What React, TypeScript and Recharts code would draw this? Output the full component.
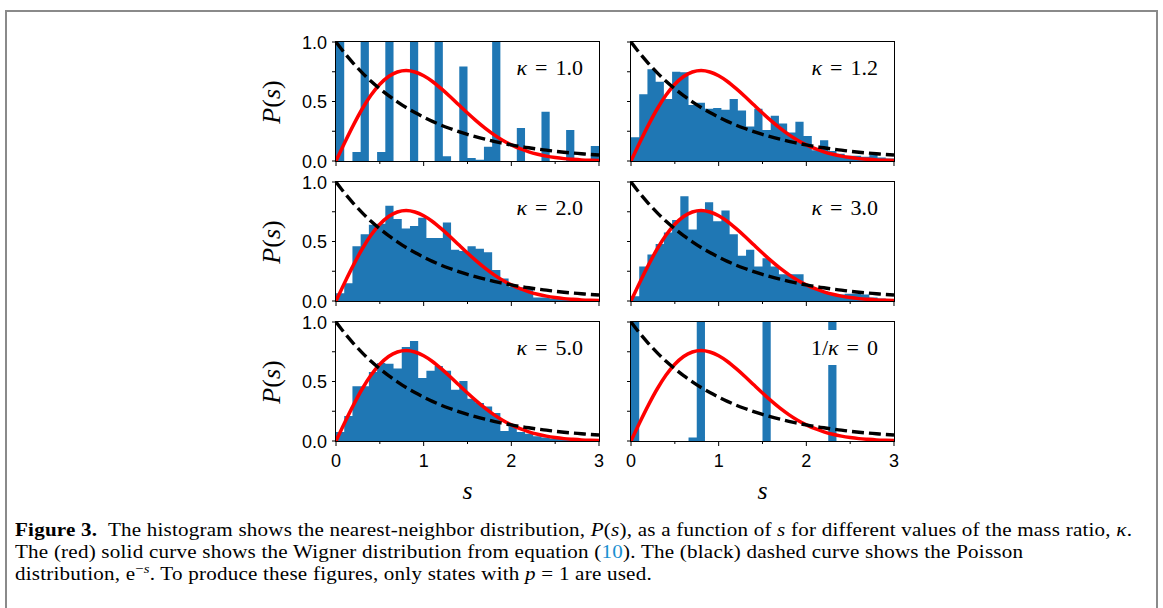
import { ComposedChart, Area, Line, XAxis, YAxis } from "recharts"

const S_MAX = 3
const X_TICKS = [0, 0.5, 1, 1.5, 2, 2.5, 3]
const Y_TICKS = [0, 0.25, 0.5, 0.75, 1]

// reference curves, read at s = 0, 0.1, ... 3.0
const CURVE_S = [
  0, 0.1, 0.2, 0.3, 0.4, 0.5, 0.6, 0.7, 0.8, 0.9, 1.0,
  1.1, 1.2, 1.3, 1.4, 1.5, 1.6, 1.7, 1.8, 1.9, 2.0,
  2.1, 2.2, 2.3, 2.4, 2.5, 2.6, 2.7, 2.8, 2.9, 3.0,
]
const WIGNER = [
  0, 0.156, 0.304, 0.439, 0.554, 0.645, 0.710, 0.748, 0.760, 0.748, 0.716,
  0.668, 0.608, 0.542, 0.472, 0.403, 0.337, 0.276, 0.222, 0.175, 0.136,
  0.103, 0.077, 0.057, 0.041, 0.029, 0.020, 0.014, 0.009, 0.006, 0.004,
]
const POISSON = [
  1.0, 0.905, 0.819, 0.741, 0.670, 0.607, 0.549, 0.497, 0.449, 0.407, 0.368,
  0.333, 0.301, 0.273, 0.247, 0.223, 0.202, 0.183, 0.165, 0.150, 0.135,
  0.122, 0.111, 0.100, 0.091, 0.082, 0.074, 0.067, 0.061, 0.055, 0.050,
]

// histograms, 32 bins over [0, 3]
const HIST_K10 = [
  1.0, 0, 0.076, 1.0, 0, 0.076, 1.0, 0, 0, 1.0, 0, 0, 1.0, 0.04, 0, 0.795,
  0.025, 0.01, 0.12, 1.0, 0, 0, 0.278, 0, 0, 0.413, 0, 0, 0.26, 0, 0, 0.126,
]
const HIST_K12 = [
  0.2, 0.56, 0.77, 0.665, 0.52, 0.75, 0.745, 0.47, 0.49, 0.44, 0.445, 0.43, 0.52, 0.425, 0.29, 0.44,
  0.26, 0.38, 0.315, 0.24, 0.33, 0.21, 0.09, 0.175, 0.085, 0.06, 0.045, 0.045, 0.035, 0.055, 0.03, 0.02,
]
const HIST_K20 = [
  0.065, 0.15, 0.46, 0.56, 0.64, 0.65, 0.8, 0.69, 0.61, 0.63, 0.7, 0.53, 0.53, 0.66, 0.43, 0.42,
  0.46, 0.44, 0.41, 0.26, 0.19, 0.12, 0.115, 0.1, 0.03, 0.03, 0.02, 0.02, 0.015, 0.01, 0.01, 0.005,
]
const HIST_K30 = [
  0.04, 0.29, 0.39, 0.48, 0.575, 0.68, 0.88, 0.6, 0.75, 0.83, 0.67, 0.76, 0.56, 0.38, 0.43, 0.29,
  0.36, 0.29, 0.225, 0.225, 0.225, 0.13, 0.1, 0.08, 0.06, 0.055, 0.06, 0.06, 0.055, 0.03, 0.02, 0.01,
]
const HIST_K50 = [
  0.075, 0.21, 0.46, 0.46, 0.58, 0.655, 0.65, 0.61, 0.79, 0.84, 0.53, 0.59, 0.63, 0.59, 0.43, 0.505,
  0.355, 0.32, 0.29, 0.235, 0.085, 0.125, 0.075, 0.06, 0.04, 0.03, 0.02, 0.02, 0.01, 0.01, 0.01, 0.005,
]
const HIST_KINF = [
  1.0, 0, 0, 0, 0, 0, 0, 0.03, 1.0, 0, 0, 0, 0, 0, 0, 0,
  1.0, 0, 0, 0, 0, 0, 0, 0, 1.0, 0, 0, 0, 0, 0, 0, 0,
]

const PANEL_LABELS = ["κ = 1.0", "κ = 1.2", "κ = 2.0", "κ = 3.0", "κ = 5.0", "1/κ = 0"]
const PANEL_HISTS = [HIST_K10, HIST_K12, HIST_K20, HIST_K30, HIST_K50, HIST_KINF]

const BLUE = "#1f77b4"
const PLOT_W = 263
const PLOT_H = 119
const COL_X = [336, 631]
const ROW_Y = [42, 182, 322]
const Y_AXIS_W = 50
const X_AXIS_H = 34
const PAD = 12
const TICK_FONT = "'Liberation Sans', Arial, sans-serif"
const SERIF = "'Liberation Serif', 'Times New Roman', serif"

function buildRows(hist: number[]) {
  const map = new Map<string, any>()
  const put = (s: number, key: string, v: number) => {
    const k = s.toFixed(5)
    const row = map.get(k) ?? { s }
    row[key] = v
    map.set(k, row)
  }
  hist.forEach((h, i) => put((i * S_MAX) / hist.length, "hist", h))
  put(S_MAX, "hist", hist[hist.length - 1])
  CURVE_S.forEach((s, i) => {
    put(s, "wigner", WIGNER[i])
    put(s, "poisson", POISSON[i])
  })
  return [...map.values()].sort((a, b) => a.s - b.s)
}

function XTick({ x, y, payload, showLabel }: any) {
  const major = Number.isInteger(payload.value)
  return (
    <g>
      <line x1={x} x2={x} y1={y} y2={y + (major ? 5 : 3)} stroke="#000" strokeWidth={1} />
      {showLabel && major && (
        <text x={x} y={y + 26} textAnchor="middle" fontFamily={TICK_FONT} fontSize={18} fill="#000">
          {payload.value}
        </text>
      )}
    </g>
  )
}

function YTick({ x, y, payload, showLabel }: any) {
  const v = payload.value
  const labelled = showLabel && (v === 0 || v === 0.5 || v === 1)
  return (
    <g>
      <line x1={x - 4} x2={x} y1={y} y2={y} stroke="#000" strokeWidth={1} />
      {labelled && (
        <text x={x - 9} y={y + 6.5} textAnchor="end" fontFamily={TICK_FONT} fontSize={18} fill="#000">
          {v.toFixed(1)}
        </text>
      )}
    </g>
  )
}

function KappaLabel({ text }: { text: string }) {
  const [lhs, rhs] = text.split(" = ")
  return (
    <span>
      {lhs.split("κ").map((part, i, arr) => (
        <span key={i}>
          {part}
          {i < arr.length - 1 && <i>κ</i>}
        </span>
      ))}
      <span style={{ margin: "0 8px" }}>=</span>
      {rhs}
    </span>
  )
}

function Panel({ index }: { index: number }) {
  const col = index % 2
  const row = Math.floor(index / 2)
  const left = COL_X[col]
  const top = ROW_Y[row]
  const rows = buildRows(PANEL_HISTS[index])
  const showX = row === 2
  const showY = col === 0
  return (
    <>
      <div style={{ position: "absolute", left: left - Y_AXIS_W, top: top - PAD }}>
        <ComposedChart
          width={Y_AXIS_W + PLOT_W + PAD}
          height={PAD + PLOT_H + X_AXIS_H}
          data={rows}
          margin={{ top: PAD, right: PAD, bottom: 0, left: 0 }}
        >
          <XAxis
            dataKey="s" type="number" domain={[0, S_MAX]} ticks={X_TICKS} interval={0}
            allowDataOverflow axisLine={false} tickLine={false} tickSize={0} tickMargin={0}
            height={X_AXIS_H} tick={(p: any) => <XTick {...p} showLabel={showX} />}
          />
          <YAxis
            type="number" domain={[0, 1]} ticks={Y_TICKS} interval={0}
            allowDataOverflow axisLine={false} tickLine={false} tickSize={0} tickMargin={0}
            width={Y_AXIS_W} tick={(p: any) => <YTick {...p} showLabel={showY} />}
          />
          <Area
            dataKey="hist" type="stepAfter" fill={BLUE} fillOpacity={1} stroke="none"
            connectNulls isAnimationActive={false}
          />
          <Line
            dataKey="wigner" type="monotone" stroke="#ff0000" strokeWidth={3.5}
            dot={false} activeDot={false} connectNulls isAnimationActive={false}
          />
          <Line
            dataKey="poisson" type="monotone" stroke="#000" strokeWidth={3.4} strokeDasharray="12 5"
            dot={false} activeDot={false} connectNulls isAnimationActive={false}
          />
        </ComposedChart>
      </div>
      <div
        style={{
          position: "absolute", left: left - 1, top: top - 1, width: PLOT_W + 2, height: PLOT_H + 2,
          border: "1px solid #000", boxSizing: "border-box", pointerEvents: "none",
        }}
      />
      <div
        style={{
          position: "absolute", right: 1163 - (left + PLOT_W - 10), top: top + 8, height: 35,
          padding: "0 6px", background: "#fff", display: "flex", alignItems: "center",
          fontFamily: SERIF, fontSize: 22, color: "#000", whiteSpace: "nowrap",
        }}
      >
        <KappaLabel text={PANEL_LABELS[index]} />
      </div>
      {showY && (
        <div
          style={{
            position: "absolute", left: 272, top: top + PLOT_H / 2,
            transform: "translate(-50%, -50%) rotate(-90deg)",
            fontFamily: SERIF, fontSize: 26, color: "#000", whiteSpace: "nowrap",
          }}
        >
          <i>P</i>(<i>s</i>)
        </div>
      )}
      {showX && (
        <div
          style={{
            position: "absolute", left: left + PLOT_W / 2, top: 491,
            transform: "translate(-50%, -50%)",
            fontFamily: SERIF, fontSize: 26, fontStyle: "italic", color: "#000",
          }}
        >
          s
        </div>
      )}
    </>
  )
}

const lineStyle = {
  height: 22, transform: "scaleX(1.108)", transformOrigin: "0 50%",
} as const

export default function App() {
  return (
    <div
      style={{
        position: "absolute", left: 0, top: 0, width: 1163, height: 608,
        overflow: "hidden", background: "#fff",
      }}
    >
      <div
        style={{
          position: "absolute", left: 5, top: 10, width: 1153, height: 640,
          border: "2px solid #8a8a8a", boxSizing: "border-box",
        }}
      />
      {PANEL_HISTS.map((_, i) => (
        <Panel key={i} index={i} />
      ))}
      <div
        style={{
          position: "absolute", left: 15, top: 519, fontFamily: SERIF, fontSize: 19,
          letterSpacing: 0.2, lineHeight: "22px", color: "#000", whiteSpace: "nowrap",
        }}
      >
        <div style={lineStyle}>
          <b>Figure 3.</b>&nbsp; The histogram shows the nearest-neighbor distribution, <i>P</i>(<i>s</i>), as a
          function of <i>s</i> for different values of the mass ratio, <i>κ</i>.
        </div>
        <div style={lineStyle}>
          The (red) solid curve shows the Wigner distribution from equation (
          <span style={{ color: "#1a8fd0" }}>10</span>). The (black) dashed curve shows the Poisson
        </div>
        <div style={lineStyle}>
          distribution, e<sup style={{ fontSize: "0.7em", lineHeight: 0 }}>−<i>s</i></sup>. To produce these
          figures, only states with <i>p</i> = 1 are used.
        </div>
      </div>
    </div>
  )
}
